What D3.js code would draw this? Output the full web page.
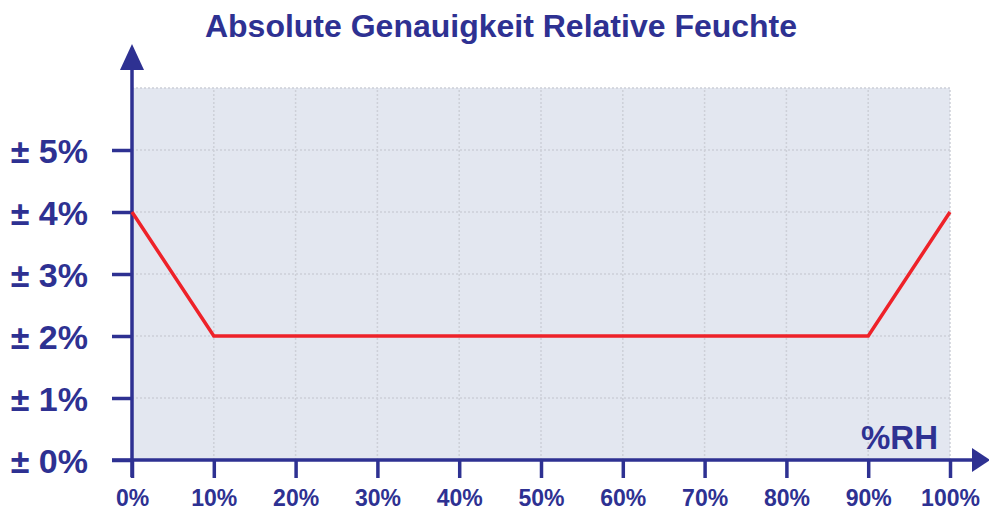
<!DOCTYPE html>
<html>
<head>
<meta charset="utf-8">
<script src="https://cdn.jsdelivr.net/npm/d3@7"></script>
<style>
body { margin: 0; background: #fff; }
text { font-family: "Liberation Sans", Arial, sans-serif; font-weight: bold; fill: #2e3192; }
</style>
</head>
<body>
<script>
const rhTicks = [0, 10, 20, 30, 40, 50, 60, 70, 80, 90, 100];
const accTicks = [0, 1, 2, 3, 4, 5];
const rh = [0, 10, 90, 100];
const accuracy = [4, 2, 2, 4];

const width = 989, height = 511;
const blue = "#2e3192";

const x = d3.scaleLinear().domain([0, 100]).range([132, 950]);
const y = d3.scaleLinear().domain([0, 6]).range([460, 88]);

const svg = d3.select("body").append("svg")
.attr("width", width)
.attr("height", height);

// plot background
svg.append("rect")
.attr("x", x(0)).attr("y", y(6))
.attr("width", x(100) - x(0)).attr("height", y(0) - y(6))
.attr("fill", "#e3e7f0");

// grid
const grid = svg.append("g")
.attr("stroke", "#cdd0d8")
.attr("stroke-width", 1.5)
.attr("stroke-dasharray", "2,2");
grid.selectAll(".gx")
.data(rhTicks.slice(1))
.join("line")
.attr("x1", d => x(d)).attr("x2", d => x(d))
.attr("y1", y(0)).attr("y2", y(6));
grid.selectAll(".gy")
.data(d3.range(1, 7))
.join("line")
.attr("x1", x(0)).attr("x2", x(100))
.attr("y1", d => y(d)).attr("y2", d => y(d));

// title
svg.append("text")
.attr("x", 501).attr("y", 37)
.attr("text-anchor", "middle")
.attr("font-size", 32)
.text("Absolute Genauigkeit Relative Feuchte");

// axes
const axisX = d3.axisBottom(x)
.tickValues(rhTicks)
.tickSize(18)
.tickPadding(6)
.tickFormat(d => d + "%");
const gx = svg.append("g")
.attr("transform", `translate(0,${y(0)})`)
.call(axisX);
gx.select(".domain").remove();
gx.selectAll("line").attr("stroke", blue).attr("stroke-width", 3.5);
gx.selectAll("text").attr("font-size", 23).attr("fill", blue).attr("font-family", null)
.attr("y", 46).attr("dy", null);

const axisY = d3.axisLeft(y)
.tickValues(accTicks)
.tickSize(20)
.tickPadding(24)
.tickFormat(d => "± " + d + "%");
const gy = svg.append("g")
.attr("transform", `translate(${x(0)},0)`)
.call(axisY);
gy.select(".domain").remove();
gy.selectAll("line").attr("stroke", blue).attr("stroke-width", 3.5);
gy.selectAll("text").attr("font-size", 34).attr("fill", blue).attr("font-family", null)
.attr("dy", "0.36em");

// axis lines with arrows
svg.append("line")
.attr("x1", x(0)).attr("x2", x(0))
.attr("y1", y(0) + 17).attr("y2", 60)
.attr("stroke", blue).attr("stroke-width", 3.5);
svg.append("path")
.attr("d", `M${x(0) - 12},70 L${x(0)},44 L${x(0) + 12},70 Z`)
.attr("fill", blue);

svg.append("line")
.attr("x1", x(0) - 20).attr("x2", 978)
.attr("y1", y(0)).attr("y2", y(0))
.attr("stroke", blue).attr("stroke-width", 3.5);
svg.append("path")
.attr("d", `M972,${y(0) - 12} L990,${y(0)} L972,${y(0) + 12} Z`)
.attr("fill", blue);

svg.append("text")
.attr("x", 938).attr("y", 449)
.attr("text-anchor", "end")
.attr("font-size", 33)
.text("%RH");

// accuracy line
const line = d3.line()
.x((d, i) => x(rh[i]))
.y(d => y(d));
svg.append("path")
.datum(accuracy)
.attr("d", line)
.attr("fill", "none")
.attr("stroke", "#ee2229")
.attr("stroke-width", 3.5)
.attr("stroke-linejoin", "miter");
</script>
</body>
</html>
